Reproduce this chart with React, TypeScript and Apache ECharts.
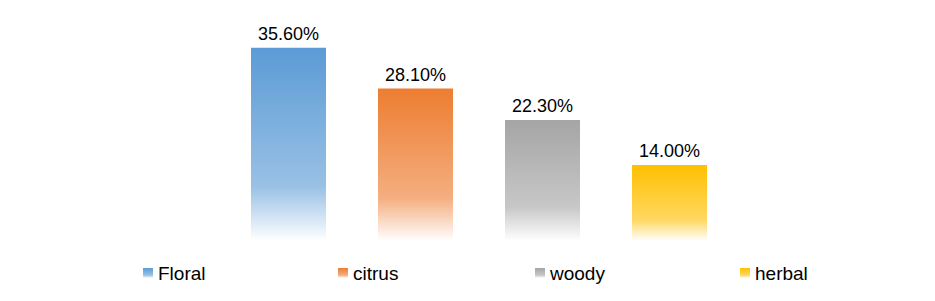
import React, { useEffect, useRef } from "react";
import * as echarts from "echarts";

const categories = ["Floral", "citrus", "woody", "herbal"];
const values = [35.6, 28.1, 22.3, 14.0];
const colors = ["#5B9BD5", "#ED7D31", "#A5A5A5", "#FFC000"];
const legendLefts = [143, 338, 535, 740];

function hexA(hex: string, a: number) {
  const r = parseInt(hex.slice(1, 3), 16);
  const g = parseInt(hex.slice(3, 5), 16);
  const b = parseInt(hex.slice(5, 7), 16);
  return `rgba(${r},${g},${b},${a})`;
}

export default function App() {
  const ref = useRef<HTMLDivElement>(null);
  useEffect(() => {
    if (!ref.current) return;
    const chart = echarts.init(ref.current, undefined, { renderer: "svg" });
    const font = "'Liberation Sans', Arial, sans-serif";
    const series = categories.map((name, i) => ({
      name,
      type: "bar",
      barWidth: 75,
      barGap: "-100%",
      data: values.map((v, j) => (j === i ? v : "-")),
      itemStyle: {
        color: new echarts.graphic.LinearGradient(0, 0, 0, 1, [
          { offset: 0, color: hexA(colors[i], 1) },
          { offset: 0.72, color: hexA(colors[i], 0.62) },
          { offset: 1, color: hexA(colors[i], 0) },
        ]),
      },
      label: {
        show: true,
        position: "top",
        distance: 5,
        color: "#000",
        fontSize: 18,
        fontFamily: font,
        formatter: (p: any) => Number(p.value).toFixed(2) + "%",
      },
    }));
    chart.setOption({
      animation: false,
      grid: { left: 225, right: 202, top: 24, bottom: 60 },
      xAxis: {
        type: "category",
        data: categories,
        axisLine: { show: false },
        axisTick: { show: false },
        axisLabel: { show: false },
      },
      yAxis: {
        type: "value",
        min: 0,
        max: 40,
        show: false,
        splitLine: { show: false },
      },
      legend: categories.map((name, i) => ({
        data: [name],
        left: legendLefts[i],
        top: 263,
        padding: 0,
        icon: "rect",
        itemWidth: 10,
        itemHeight: 10,
        textStyle: { fontSize: 19, fontFamily: font, color: "#000", lineHeight: 20 },
      })),
      series,
    });
    return () => chart.dispose();
  }, []);
  return (
    <div
      ref={ref}
      style={{ position: "absolute", left: 0, top: 0, width: 935, height: 301 }}
    />
  );
}
